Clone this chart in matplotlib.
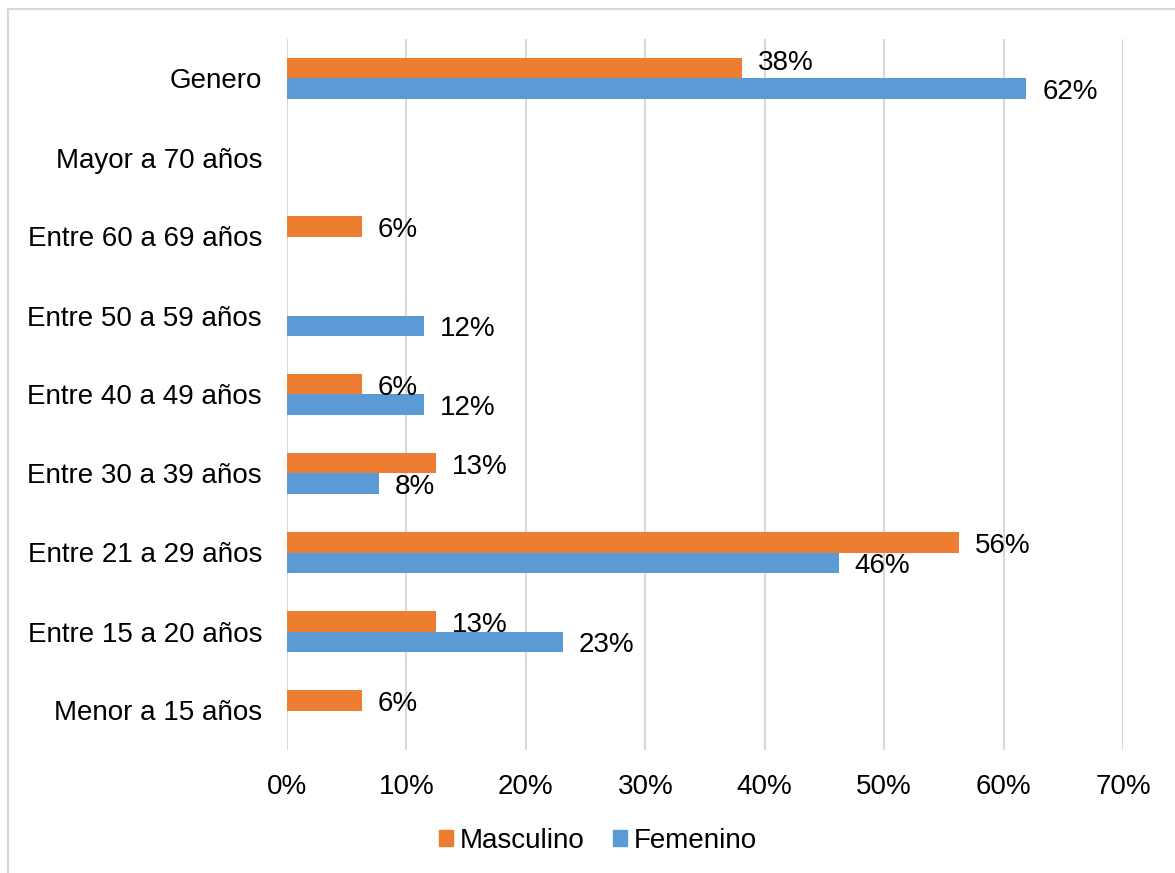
import matplotlib
matplotlib.use("Agg")
import matplotlib.pyplot as plt
from matplotlib.patches import Rectangle, Patch
from matplotlib.ticker import PercentFormatter, MultipleLocator

# categories from bottom to top
categories = [
    "Menor a 15 años",
    "Entre 15 a 20 años",
    "Entre 21 a 29 años",
    "Entre 30 a 39 años",
    "Entre 40 a 49 años",
    "Entre 50 a 59 años",
    "Entre 60 a 69 años",
    "Mayor a 70 años",
    "Genero",
]
masculino = [0.0625, 0.125, 0.5625, 0.125, 0.0625, 0.0, 0.0625, 0.0, 0.381]
femenino = [0.0, 0.231, 0.462, 0.077, 0.115, 0.115, 0.0, 0.0, 0.619]

ORANGE = "#ED7D31"
BLUE = "#5B9BD5"
GRID = "#D9D9D9"

plt.rcParams["font.family"] = ["Liberation Sans", "DejaVu Sans"]


def pct(v):
    # Excel-style rounding (half up), 12.5% -> 13%
    return f"{int(v * 100 + 0.5)}%"


fig = plt.figure(figsize=(11.75, 8.73), dpi=100)
ax = fig.add_axes([287 / 1175, 1 - 750 / 873, (1123 - 287) / 1175, (750 - 39) / 873])

# outer chart frame (only top and left edges are visible in the crop)
fig.patches.append(Rectangle((8 / 1175, -0.1), 1.2, 1.1 - 9.5 / 873,
                             transform=fig.transFigure, fill=False,
                             edgecolor=GRID, linewidth=1.5))

h = 0.255
ys = list(range(len(categories)))
ax.barh([y + h / 2 for y in ys], masculino, height=h, color=ORANGE, zorder=3)
ax.barh([y - h / 2 for y in ys], femenino, height=h, color=BLUE, zorder=3)

for y, m, f in zip(ys, masculino, femenino):
    if m > 0:
        # the top "Genero" label sits a bit higher in the original
        dy = 4 if y == ys[-1] else -2.5
        ax.annotate(pct(m), (m, y + h / 2), xytext=(11.5, dy),
                    textcoords="offset points", va="center", ha="left", fontsize=20)
    if f > 0:
        ax.annotate(pct(f), (f, y - h / 2), xytext=(11.5, -2.5),
                    textcoords="offset points", va="center", ha="left", fontsize=20)

ax.set_xlim(0, 0.7)
ax.set_ylim(-0.5, len(categories) - 0.5)
ax.xaxis.set_major_locator(MultipleLocator(0.1))
ax.xaxis.set_major_formatter(PercentFormatter(1.0, decimals=0))
ax.set_yticks(ys)
ax.set_yticklabels(categories)
ax.tick_params(axis="both", length=0, labelsize=20)
ax.tick_params(axis="x", pad=17)
ax.tick_params(axis="y", pad=18)
ax.grid(axis="x", color=GRID, linewidth=1.5, zorder=0)
ax.set_axisbelow(True)
for s in ax.spines.values():
    s.set_visible(False)

handles = [Patch(color=ORANGE, label="Masculino"), Patch(color=BLUE, label="Femenino")]
fig.legend(handles=handles, loc="center", bbox_to_anchor=(0.509, 1 - 841 / 873), ncol=2,
           frameon=False, fontsize=20, handlelength=0.5, handleheight=0.5,
           handletextpad=0.25, columnspacing=1.0)

fig.savefig("out.png", dpi=100)
